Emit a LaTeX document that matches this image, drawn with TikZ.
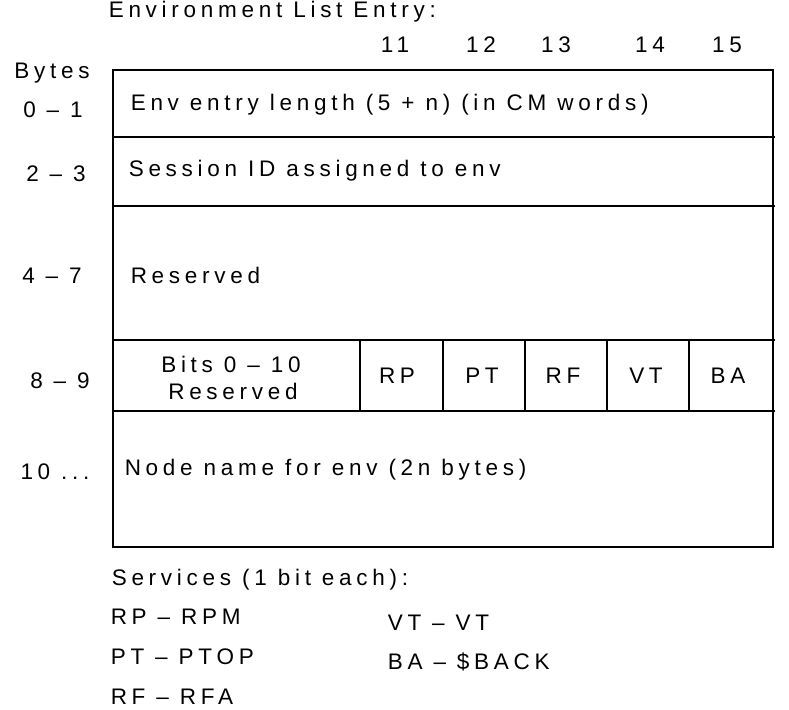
\documentclass[tikz,border=0pt]{standalone}
\usepackage{fontspec}
\setmainfont{Liberation Sans}[LetterSpace=21]
\begin{document}
\begin{tikzpicture}[x=1pt,y=-1pt,line width=1.6pt,
  lbl/.style={inner sep=0pt,font=\fontsize{22.5}{24}\selectfont},
  ll/.style={lbl,anchor=west}]
\useasboundingbox (0,0) rectangle (789,709);
\draw (113,70) rectangle (773,547);
\foreach \y in {137,206,340,411} \draw (113,\y) -- (775,\y);
\foreach \x in {360,443,525,607,689} \draw (\x,340) -- (\x,411);
\node[ll] (t) at (108,12) {Environment List Entry:};
\node[lbl] (c11) at (395,45) {11};
\node[lbl] (c12) at (481,45) {12};
\node[lbl] (c13) at (556,45) {13};
\node[lbl] (c14) at (650,45) {14};
\node[lbl] (c15) at (727,45) {15};
\node[lbl] (by) at (52,73) {Bytes};
\node[lbl] (b0) at (53,110) {0 -- 1};
\node[lbl] (b2) at (56,174) {2 -- 3};
\node[lbl] (b4) at (52,276) {4 -- 7};
\node[lbl] (b8) at (60,381) {8 -- 9};
\node[lbl] (b10) at (55,472) {10 ...};
\node[ll] (r1) at (130,105) {Env entry length (5 + n) (in CM words)};
\node[ll] (r2) at (128,171) {Session ID assigned to env};
\node[ll] (r3) at (130,275) {Reserved};
\node[lbl] (bi) at (231,364) {Bits 0 -- 10};
\node[lbl] (br) at (233,391) {Reserved};
\node[lbl] (rp) at (397,376) {RP};
\node[lbl] (pt) at (482,376) {PT};
\node[lbl] (rf) at (563,376) {RF};
\node[lbl] (vt) at (646,376) {VT};
\node[lbl] (ba) at (728,376) {BA};
\node[ll] (r5) at (124,470) {Node name for env (2n bytes)};
\node[ll] (s) at (111,580) {Services (1 bit each):};
\node[ll] (s1) at (110,617) {RP -- RPM};
\node[ll] (s2) at (110,657) {PT -- PTOP};
\node[ll] (s3) at (110,697) {RF -- RFA};
\node[ll] (s4) at (387,623) {VT -- VT};
\node[ll] (s5) at (387,662) {BA -- \$BACK};
\end{tikzpicture}
\end{document}
